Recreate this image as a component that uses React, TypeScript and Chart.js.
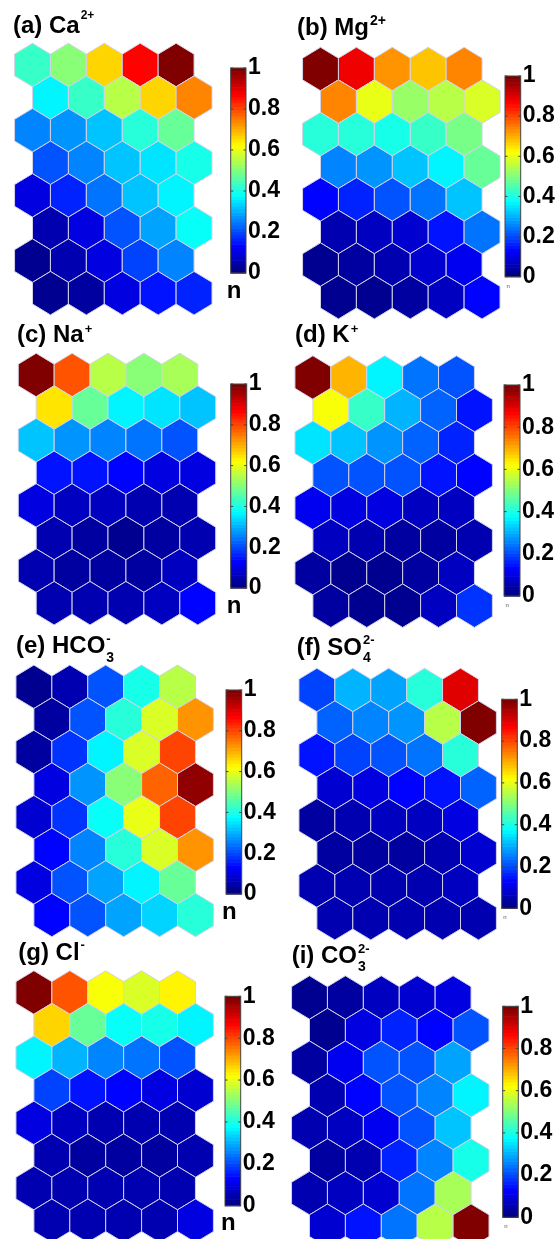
import React, { useEffect, useRef } from 'react';
import { Chart, registerables } from 'chart.js';

Chart.register(...registerables);

// ---------- data ----------
const CB_TICKS = [0, 0.2, 0.4, 0.6, 0.8, 1];
const CB_TICK_LABELS = ['0', '0.2', '0.4', '0.6', '0.8', '1'];

// 8 rows x 5 columns of normalised component-plane values (row 0 = top)
const CA = [
  [0.43, 0.5, 0.66, 0.88, 1.0],
  [0.36, 0.43, 0.55, 0.67, 0.74],
  [0.26, 0.27, 0.32, 0.42, 0.47],
  [0.21, 0.25, 0.31, 0.35, 0.39],
  [0.09, 0.16, 0.24, 0.32, 0.37],
  [0.05, 0.1, 0.2, 0.29, 0.38],
  [0.01, 0.04, 0.1, 0.19, 0.25],
  [0.01, 0.03, 0.09, 0.15, 0.16],
];
const MG = [
  [1.0, 0.89, 0.73, 0.68, 0.74],
  [0.74, 0.6, 0.52, 0.56, 0.59],
  [0.42, 0.41, 0.39, 0.43, 0.49],
  [0.25, 0.27, 0.32, 0.36, 0.47],
  [0.13, 0.16, 0.2, 0.24, 0.32],
  [0.05, 0.07, 0.08, 0.15, 0.24],
  [0.02, 0.03, 0.05, 0.08, 0.11],
  [0.01, 0.02, 0.03, 0.06, 0.13],
];
const NA = [
  [1.0, 0.8, 0.55, 0.5, 0.54],
  [0.65, 0.47, 0.36, 0.35, 0.31],
  [0.32, 0.27, 0.25, 0.24, 0.21],
  [0.15, 0.15, 0.13, 0.1, 0.09],
  [0.09, 0.07, 0.06, 0.05, 0.04],
  [0.04, 0.03, 0.02, 0.03, 0.05],
  [0.04, 0.03, 0.03, 0.03, 0.06],
  [0.04, 0.04, 0.04, 0.06, 0.13],
];
const K = [
  [1.0, 0.7, 0.37, 0.24, 0.2],
  [0.62, 0.43, 0.3, 0.22, 0.15],
  [0.35, 0.31, 0.27, 0.22, 0.16],
  [0.2, 0.21, 0.2, 0.15, 0.13],
  [0.11, 0.1, 0.09, 0.07, 0.06],
  [0.06, 0.04, 0.03, 0.03, 0.05],
  [0.03, 0.02, 0.02, 0.03, 0.06],
  [0.03, 0.02, 0.02, 0.07, 0.17],
];
const HCO3 = [
  [0.01, 0.05, 0.2, 0.39, 0.55],
  [0.03, 0.2, 0.42, 0.59, 0.73],
  [0.03, 0.17, 0.36, 0.59, 0.81],
  [0.09, 0.27, 0.51, 0.77, 0.98],
  [0.08, 0.17, 0.38, 0.6, 0.81],
  [0.12, 0.25, 0.42, 0.58, 0.73],
  [0.1, 0.21, 0.29, 0.37, 0.47],
  [0.13, 0.21, 0.29, 0.34, 0.42],
];
const SO4 = [
  [0.19, 0.3, 0.29, 0.42, 0.9],
  [0.22, 0.25, 0.27, 0.56, 1.0],
  [0.14, 0.19, 0.2, 0.24, 0.41],
  [0.08, 0.1, 0.12, 0.14, 0.22],
  [0.03, 0.05, 0.06, 0.07, 0.09],
  [0.03, 0.03, 0.03, 0.05, 0.08],
  [0.05, 0.05, 0.04, 0.05, 0.07],
  [0.04, 0.04, 0.05, 0.05, 0.05],
];
const CL = [
  [1.0, 0.8, 0.62, 0.59, 0.64],
  [0.67, 0.47, 0.38, 0.39, 0.37],
  [0.36, 0.3, 0.25, 0.24, 0.21],
  [0.19, 0.14, 0.13, 0.1, 0.08],
  [0.09, 0.07, 0.05, 0.05, 0.04],
  [0.04, 0.03, 0.03, 0.03, 0.05],
  [0.05, 0.04, 0.04, 0.04, 0.05],
  [0.04, 0.04, 0.05, 0.05, 0.09],
];
const CO3 = [
  [0.01, 0.03, 0.06, 0.08, 0.1],
  [0.02, 0.1, 0.16, 0.13, 0.2],
  [0.03, 0.11, 0.2, 0.21, 0.29],
  [0.05, 0.12, 0.2, 0.25, 0.36],
  [0.04, 0.07, 0.11, 0.2, 0.31],
  [0.03, 0.05, 0.16, 0.25, 0.39],
  [0.04, 0.06, 0.08, 0.24, 0.54],
  [0.08, 0.14, 0.24, 0.55, 1.0],
];

// ---------- layout ----------
const PANEL_W = 280;
const PANEL_H = 330;
const UX = 35.9; // px per column
const UY = 32.6; // px per row
const FONT = "'Liberation Sans', Arial, Helvetica, sans-serif";

const PANELS = [
  { id: 'a', values: CA, main: '(a) Ca', sup: '2+', sub: '', supRaise: 12, supSize: 12, tx: 13, tb: 33, ox: 0, oy: 0, c0x: 32.5, c0y: 65, cbL: 230.7, cbR: 246, cbT: 68, cbB: 273, nBig: true },
  { id: 'b', values: MG, main: '(b) Mg', sup: '2+', sub: '', supRaise: 8, supSize: 14, tx: 17, tb: 35, ox: 280, oy: 0, c0x: 40.5, c0y: 69, cbL: 225, cbR: 240.7, cbT: 76, cbB: 276.7, nBig: false },
  { id: 'c', values: NA, main: '(c) Na', sup: '+', sub: '', supRaise: 7, supSize: 13, tx: 17, tb: 32, ox: 0, oy: 310, c0x: 36.2, c0y: 65, cbL: 230.7, cbR: 246.7, cbT: 74, cbB: 278, nBig: true },
  { id: 'd', values: K, main: '(d) K', sup: '+', sub: '', supRaise: 7, supSize: 13, tx: 15, tb: 32.5, ox: 280, oy: 310, c0x: 32.9, c0y: 67.5, cbL: 224, cbR: 240, cbT: 75, cbB: 286, nBig: false },
  { id: 'e', values: HCO3, main: '(e) HCO', sup: '-', sub: '3', supRaise: 8, supSize: 13, subDrop: -1, tx: 16, tb: 33.3, ox: 0, oy: 620, c0x: 33.9, c0y: 66.8, cbL: 226, cbR: 241.7, cbT: 70, cbB: 274, nBig: true },
  { id: 'f', values: SO4, main: '(f) SO', sup: '2-', sub: '4', supRaise: 9, supSize: 13, subDrop: -3, tx: 16.7, tb: 35, ox: 280, oy: 620, c0x: 36.9, c0y: 70, cbL: 221.7, cbR: 237.3, cbT: 79.3, cbB: 288.3, nBig: false },
  { id: 'g', values: CL, main: '(g) Cl', sup: '-', sub: '', supRaise: 9, supSize: 13, tx: 18.3, tb: 31.7, ox: 0, oy: 929, c0x: 33.9, c0y: 63.5, cbL: 225, cbR: 240.7, cbT: 67.3, cbB: 276.7, nBig: true },
  { id: 'i', values: CO3, main: '(i) CO', sup: '2-', sub: '3', supRaise: 8, supSize: 13, subDrop: -2, tx: 11.7, tb: 34.3, ox: 280, oy: 929, c0x: 29.5, c0y: 68.5, cbL: 222.7, cbR: 238.3, cbT: 77.3, cbB: 288.3, nBig: false },
];

// pointy-top hexagon vertices in grid units (row spacing = 1, column spacing = 1)
const HEX = [
  [0, -2 / 3],
  [0.5, -1 / 3],
  [0.5, 1 / 3],
  [0, 2 / 3],
  [-0.5, 1 / 3],
  [-0.5, -1 / 3],
];

function jet(v: number): string {
  const t = Math.min(1, Math.max(0, v));
  const q = Math.round(t * 63) / 63;
  const f = (x: number) => Math.min(1, Math.max(0, x));
  const r = f(Math.min(4 * q - 1.5, -4 * q + 4.5));
  const g = f(Math.min(4 * q - 0.5, -4 * q + 3.5));
  const b = f(Math.min(4 * q + 0.5, -4 * q + 2.5));
  return `rgb(${Math.round(r * 255)},${Math.round(g * 255)},${Math.round(b * 255)})`;
}

const hexPlugin = {
  id: 'hexcells',
  afterDatasetsDraw(chart: any, _args: any, opts: any) {
    const { ctx } = chart;
    const xs = chart.scales.x;
    const ys = chart.scales.y;
    const ds = chart.data.datasets[0];
    ctx.save();
    ds.data.forEach((p: any) => {
      ctx.beginPath();
      HEX.forEach(([dx, dy], i) => {
        const px = xs.getPixelForValue(p.x + dx);
        const py = ys.getPixelForValue(p.y + dy);
        if (i === 0) ctx.moveTo(px, py);
        else ctx.lineTo(px, py);
      });
      ctx.closePath();
      ctx.fillStyle = jet(p.v);
      ctx.fill();
      ctx.strokeStyle = 'rgba(210,210,232,1)';
      ctx.lineWidth = 1;
      ctx.stroke();
    });

    // colour bar along the 'cb' axis
    const cb = chart.scales.cb;
    const right = chart.chartArea.right;
    const left = right - opts.cbWidth;
    const top = cb.getPixelForValue(1);
    const bot = cb.getPixelForValue(0);
    const steps = 64;
    for (let i = 0; i < steps; i++) {
      const v0 = i / steps;
      const v1 = (i + 1) / steps;
      const y0 = cb.getPixelForValue(v1);
      const y1 = cb.getPixelForValue(v0);
      ctx.fillStyle = jet((i + 0.5) / steps);
      ctx.fillRect(left, y0, right - left, y1 - y0 + 0.6);
    }
    ctx.strokeStyle = '#444';
    ctx.lineWidth = 1;
    ctx.strokeRect(left, top, right - left, bot - top);
    CB_TICKS.forEach((t) => {
      const y = cb.getPixelForValue(t);
      ctx.beginPath();
      ctx.moveTo(left, y);
      ctx.lineTo(left + 2.5, y);
      ctx.moveTo(right, y);
      ctx.lineTo(right - 2.5, y);
      ctx.stroke();
    });
    ctx.restore();
  },
};

function Panel({ cfg }: { cfg: any }) {
  const ref = useRef<HTMLCanvasElement | null>(null);
  useEffect(() => {
    const pts: any[] = [];
    cfg.values.forEach((row: number[], r: number) =>
      row.forEach((v: number, c: number) => pts.push({ x: c + (r % 2) * 0.5, y: r, v }))
    );
    const xmin = -cfg.c0x / UX;
    const xmax = xmin + cfg.cbR / UX;
    const ymin = -cfg.c0y / UY;
    const ymax = ymin + PANEL_H / UY;
    const k = cfg.cbB - cfg.cbT;
    const cbMax = cfg.cbB / k;
    const cbMin = cbMax - PANEL_H / k;
    const chart = new Chart(ref.current as HTMLCanvasElement, {
      type: 'scatter',
      data: { datasets: [{ data: pts, pointRadius: 0, pointHoverRadius: 0 }] },
      options: {
        animation: false,
        responsive: false,
        devicePixelRatio: 1,
        events: [],
        layout: { padding: 0 },
        plugins: {
          legend: { display: false },
          tooltip: { enabled: false },
          hexcells: { cbWidth: cfg.cbR - cfg.cbL },
        } as any,
        scales: {
          x: { type: 'linear', display: false, min: xmin, max: xmax },
          y: { type: 'linear', display: false, reverse: true, min: ymin, max: ymax },
          cb: {
            type: 'linear',
            axis: 'y',
            position: 'right',
            min: cbMin,
            max: cbMax,
            grid: { display: false, drawTicks: false, tickLength: 0 },
            border: { display: false },
            afterBuildTicks: (ax: any) => {
              ax.ticks = CB_TICKS.map((v) => ({ value: v }));
            },
            afterFit: (ax: any) => {
              ax.width = PANEL_W - cfg.cbR;
              ax.paddingTop = 0;
              ax.paddingBottom = 0;
            },
            ticks: {
              autoSkip: false,
              padding: 2,
              color: '#000',
              font: { family: FONT, weight: 'bold', size: 23 },
              callback: (_v: any, i: number) => CB_TICK_LABELS[i],
            },
          },
        } as any,
      },
      plugins: [hexPlugin],
    });
    return () => chart.destroy();
  }, [cfg]);
  return (
    <canvas
      ref={ref}
      width={PANEL_W}
      height={PANEL_H}
      style={{ position: 'absolute', left: cfg.ox, top: cfg.oy, width: PANEL_W, height: PANEL_H }}
    />
  );
}

function Title({ cfg }: { cfg: any }) {
  const size = 24;
  const baseOff = size * 0.8465;
  const sw = Math.max(cfg.sup ? cfg.sup.length * 7.5 : 0, cfg.sub ? 8 : 0);
  return (
    <div
      style={{
        position: 'absolute',
        left: cfg.ox + cfg.tx,
        top: cfg.oy + cfg.tb - baseOff,
        fontFamily: FONT,
        fontWeight: 'bold',
        fontSize: size,
        lineHeight: `${size}px`,
        whiteSpace: 'nowrap',
        color: '#000',
      }}
    >
      {cfg.main}
      <span style={{ position: 'relative', display: 'inline-block', width: sw, height: 1 }}>
        {cfg.sup ? (
          <span
            style={{
              position: 'absolute',
              left: 1,
              bottom: cfg.supRaise,
              fontSize: cfg.supSize,
              lineHeight: `${cfg.supSize}px`,
            }}
          >
            {cfg.sup}
          </span>
        ) : null}
        {cfg.sub ? (
          <span
            style={{
              position: 'absolute',
              left: 1,
              top: cfg.subDrop,
              fontSize: 14,
              lineHeight: '13px',
            }}
          >
            {cfg.sub}
          </span>
        ) : null}
      </span>
    </div>
  );
}

function NLabel({ cfg }: { cfg: any }) {
  if (cfg.nBig) {
    return (
      <div
        style={{
          position: 'absolute',
          left: cfg.ox + cfg.cbL - 4,
          top: cfg.oy + cfg.cbB + 25 - 24 * 0.8465,
          fontFamily: FONT,
          fontWeight: 'bold',
          fontSize: 24,
          lineHeight: '24px',
          color: '#000',
        }}
      >
        n
      </div>
    );
  }
  return (
    <div
      style={{
        position: 'absolute',
        left: cfg.ox + cfg.cbL + 1.5,
        top: cfg.oy + cfg.cbB + 6,
        fontFamily: FONT,
        fontSize: 6,
        lineHeight: '6px',
        color: '#555',
      }}
    >
      n
    </div>
  );
}

export default function App() {
  return (
    <div
      style={{
        position: 'absolute',
        left: 0,
        top: 0,
        width: 560,
        height: 1239,
        overflow: 'hidden',
        background: '#fff',
      }}
    >
      {PANELS.map((p) => (
        <Panel key={p.id} cfg={p} />
      ))}
      {PANELS.map((p) => (
        <Title key={'t' + p.id} cfg={p} />
      ))}
      {PANELS.map((p) => (
        <NLabel key={'n' + p.id} cfg={p} />
      ))}
    </div>
  );
}
